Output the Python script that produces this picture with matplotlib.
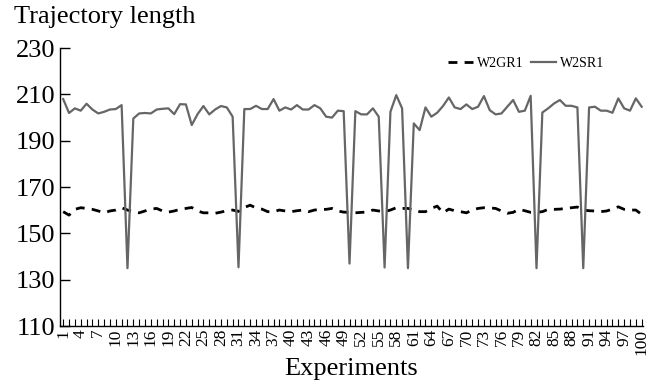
import numpy as np
import matplotlib
matplotlib.use('Agg')
import matplotlib.pyplot as plt

plt.rcParams['font.family'] = ['Liberation Serif', 'DejaVu Serif']

experiments = np.arange(1, 101)

w2sr1 = [208, 202, 204, 203, 206, 203.5, 201.8, 202.5, 203.5, 203.7,
         205.4, 135, 199.6, 201.8, 202, 201.8, 203.5, 203.8, 204, 201.5,
         205.8, 205.7, 196.8, 201.5, 205, 201.4, 203.5, 205, 204.4, 200.4,
         135.4, 203.7, 203.7, 205.1, 203.7, 203.7, 208, 203, 204.4, 203.5,
         205.4, 203.5, 203.5, 205.4, 204, 200.4, 200, 203, 202.8, 137,
         202.8, 201.4, 201.4, 204, 200.4, 135.3, 202.5, 209.7, 204, 135,
         197.5, 194.6, 204.4, 200.4, 202.1, 205, 208.7, 204.4, 203.7, 205.7,
         203.7, 204.7, 209.3, 203.2, 201.4, 201.8, 204.7, 207.6, 202.5, 203,
         209.4, 135, 202.2, 204, 206.1, 207.6, 205.1, 205.1, 204.4, 135,
         204.4, 204.7, 203, 203, 202.1, 208.3, 204, 203, 208.3, 204.7]

w2gr1 = [159.4, 157.9, 160.4, 161.1, 160.8, 160.4, 159.7, 158.9, 159.7, 160.1,
         161.1, 160.1, 159.4, 158.9, 159.7, 160.5, 160.8, 159.7, 159.2, 159.7,
         160.4, 160.8, 161.2, 159.7, 158.9, 158.9, 158.7, 159.2, 159.8, 160.1,
         159.5, 161.2, 162.2, 161, 160.5, 159.4, 159.4, 160.1, 159.7, 159.4,
         159.8, 160.1, 159.4, 160.1, 160.4, 160.4, 160.8, 159.7, 159.2, 159.1,
         158.9, 159.1, 159.2, 160.1, 159.7, 159.4, 160.1, 161.1, 160.8, 160.8,
         160.1, 159.4, 159.4, 160.8, 161.8, 158.9, 160.5, 159.8, 159.4, 158.9,
         160.1, 160.8, 161.1, 161, 160.8, 159.7, 158.7, 159.1, 160.4, 159.8,
         159.1, 159.1, 159.4, 160.4, 160.4, 160.5, 160.8, 161.1, 161.4, 160.1,
         159.8, 159.7, 159.4, 159.7, 160.5, 161.5, 160.4, 160.1, 160.1, 158.2]

y_ticks = [110, 130, 150, 170, 190, 210, 230]

fig = plt.figure(figsize=(6.5, 3.85), dpi=100)
ax = fig.add_axes([0.092, 0.153, 0.897, 0.722])

ax.plot(experiments, w2gr1, color='black', lw=2.0, ls=(0, (3.2, 2.6)), label='W2GR1')
ax.plot(experiments, w2sr1, color='#666666', lw=1.6, label='W2SR1')

ax.set_xlim(0.42, 100.2)
ax.set_ylim(110, 230)
ax.set_yticks(y_ticks)
ax.set_xticks(experiments)
ax.set_xticklabels([str(i) if (i - 1) % 3 == 0 else '' for i in experiments],
                   rotation=90, fontsize=12.5)
ax.tick_params(axis='y', direction='in', length=7, width=1, pad=3, labelsize=19)
ax.tick_params(axis='x', direction='in', length=5, width=0.8, pad=2)

for s in ['top', 'right']:
    ax.spines[s].set_visible(False)
for s in ['left', 'bottom']:
    ax.spines[s].set_linewidth(1.0)

ax.set_xlabel('Experiments', fontsize=19, labelpad=2)
fig.text(0.022, 0.955, 'Trajectory length', fontsize=19, va='center', ha='left')

ax.legend(loc='center', bbox_to_anchor=(0.80, 0.946), ncol=2, frameon=False,
          fontsize=10, handlelength=1.8, handletextpad=0.3, columnspacing=0.5)

fig.savefig('out.png', dpi=100)
